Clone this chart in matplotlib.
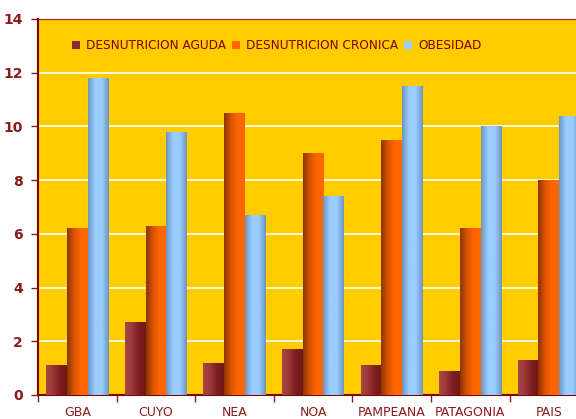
import numpy as np
import matplotlib
matplotlib.use("Agg")
from matplotlib import pyplot as plt
from matplotlib.colors import LinearSegmentedColormap

regiones = ['GBA', 'CUYO', 'NEA', 'NOA', 'PAMPEANA', 'PATAGONIA', 'PAIS']
aguda = [1.1, 2.7, 1.2, 1.7, 1.1, 0.9, 1.3]
cronica = [6.2, 6.3, 10.5, 9.0, 9.5, 6.2, 8.0]
obesidad = [11.8, 9.8, 6.7, 7.4, 11.5, 10.0, 10.4]
series = ['DESNUTRICION AGUDA', 'DESNUTRICION CRONICA', 'OBESIDAD']

texto = '#8B1A1A'
fondo = '#FFCC00'

# gradientes horizontales de cada serie
gradientes = [
    ['#A84646', '#9A3838', '#7E1E22', '#701818'],
    ['#8E3400', '#D85400', '#FF6600', '#FF6600'],
    ['#6E95BE', '#99CCFF', '#99CCFF', '#6E95BE'],
]
base = ['#8B2A2E', '#FF6600', '#99CCFF']

fig = plt.figure(figsize=(5.76, 4.19), dpi=100)
ax = fig.add_axes([0.066, 0.0573, 0.955, 0.8974])
ax.set_facecolor(fondo)

x = np.arange(len(regiones))
w = 0.264
for k, vals in enumerate([aguda, cronica, obesidad]):
    bars = ax.bar(x + (k - 1) * w, vals, w, color=base[k], label=series[k], zorder=2)
    cmap = LinearSegmentedColormap.from_list('g%d' % k, gradientes[k])
    grad = np.linspace(0, 1, 64).reshape(1, -1)
    for b in bars:
        x0, y0 = b.get_x(), b.get_y()
        im = ax.imshow(grad, cmap=cmap, aspect='auto', zorder=3,
                       extent=[x0, x0 + b.get_width(), y0, y0 + b.get_height()])
        im.set_clip_path(b)

ax.set_xlim(-0.5, len(regiones) - 0.5)
ax.set_ylim(0, 14)
ax.set_yticks(range(0, 15, 2))
ax.yaxis.grid(True, color='white', linewidth=1.2, zorder=1)
ax.set_axisbelow(True)

ax.set_xticks(x)
ax.set_xticklabels(regiones, fontsize=9, color=texto)
ax.set_xticks(np.arange(-0.5, len(regiones), 1), minor=True)
ax.tick_params(axis='x', which='major', length=0, pad=8)
ax.tick_params(axis='x', which='minor', length=5, color=texto, width=1)
ax.tick_params(axis='y', length=5, color=texto, width=1, labelsize=10, labelcolor=texto, pad=6)
for t in ax.get_yticklabels():
    t.set_fontweight('bold')

for s in ['left', 'bottom']:
    ax.spines[s].set_color('#800000')
    ax.spines[s].set_linewidth(1.5)
ax.spines['top'].set_color('#A02020')
ax.spines['top'].set_linewidth(0.8)
ax.spines['right'].set_visible(False)

leg = ax.legend(loc='upper left', bbox_to_anchor=(0.047, 0.968), ncol=3, frameon=False,
                fontsize=8.7, handlelength=0.65, handleheight=0.65, handletextpad=0.5,
                columnspacing=0.5, borderaxespad=0.3)
for t in leg.get_texts():
    t.set_color('#800000')

fig.savefig('out.png', dpi=100)
